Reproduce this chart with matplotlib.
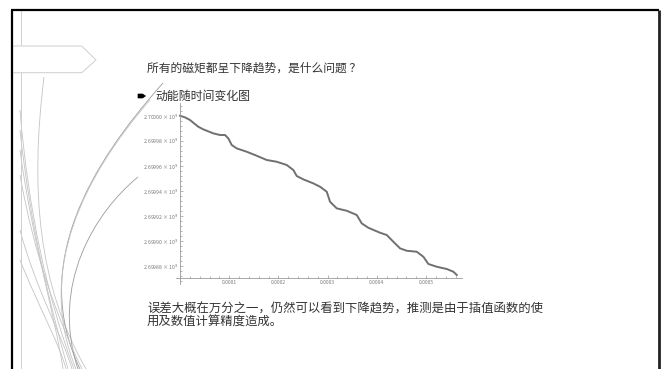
import matplotlib
matplotlib.use("Agg")
import matplotlib.pyplot as plt
from matplotlib.path import Path
from matplotlib.patches import PathPatch, Polygon
from matplotlib.ticker import FixedLocator, FuncFormatter, MultipleLocator

plt.rcParams['font.family'] = ['Noto Sans CJK SC', 'DejaVu Sans']

# ---- data: kinetic energy vs time ----
time_s = [0.0, 0.102e-4, 0.203e-4, 0.372e-4, 0.474e-4, 0.677e-4, 0.813e-4, 0.915e-4,
          0.982e-4, 1.051e-4, 1.152e-4, 1.356e-4, 1.559e-4, 1.762e-4, 1.965e-4, 2.169e-4,
          2.303e-4, 2.372e-4, 2.506e-4, 2.709e-4, 2.846e-4, 2.982e-4, 3.049e-4, 3.185e-4,
          3.388e-4, 3.591e-4, 3.693e-4, 3.827e-4, 4.065e-4, 4.201e-4, 4.335e-4, 4.472e-4,
          4.608e-4, 4.811e-4, 4.945e-4, 5.047e-4, 5.217e-4, 5.421e-4, 5.555e-4, 5.624e-4]
energy_e9 = [2.7000000, 2.6999987, 2.6999966, 2.6999912, 2.6999891, 2.6999859, 2.6999846,
             2.6999846, 2.6999819, 2.6999766, 2.6999739, 2.6999712, 2.6999680, 2.6999646,
             2.6999632, 2.6999606, 2.6999566, 2.6999518, 2.6999491, 2.6999459, 2.6999432,
             2.6999392, 2.6999312, 2.6999259, 2.6999240, 2.6999206, 2.6999139, 2.6999104,
             2.6999064, 2.6999046, 2.6998992, 2.6998939, 2.6998920, 2.6998912, 2.6998872,
             2.6998814, 2.6998792, 2.6998774, 2.6998752, 2.6998726]

y_ticks = [2.69988, 2.69990, 2.69992, 2.69994, 2.69996, 2.69998, 2.70000]
x_ticks = [0.0001, 0.0002, 0.0003, 0.0004, 0.0005]

title_text = "所有的磁矩都呈下降趋势，是什么问题 ？"
bullet_text = "动能随时间变化图"
note_lines = ["误差大概在万分之一，仍然可以看到下降趋势，推测是由于插值函数的使",
              "用及数值计算精度造成。"]

W, H = 665, 369
fig = plt.figure(figsize=(W / 100, H / 100), dpi=100)
fig.patch.set_facecolor('white')

# ---- slide background layer in pixel coordinates ----
bg = fig.add_axes([0, 0, 1, 1], zorder=0)
bg.set_xlim(0, W)
bg.set_ylim(H, 0)
bg.axis('off')

# thin vertical guide line
bg.plot([20.7, 20.7], [11, H], color='#cfcfcf', lw=0.7)

# decorative sweeping curves
curves = [
    [(44, 77), (30, 190), (38, 285), (86, 369)],
    [(163, 83), (90, 165), (30, 265), (80, 369)],
    [(150, 100), (85, 175), (35, 270), (76, 369)],
    [(138, 177), (95, 212), (50, 285), (78, 369)],
    [(20, 110), (28, 210), (48, 300), (74, 369)],
    [(20, 130), (30, 225), (50, 305), (68, 369)],
    [(20, 150), (32, 240), (55, 315), (63, 369)],
    [(20, 175), (34, 255), (58, 320), (82, 369)],
    [(20, 230), (36, 290), (62, 335), (72, 369)],
    [(20, 260), (40, 310), (60, 345), (66, 369)],
]
for i, pts in enumerate(curves):
    path = Path(pts, [Path.MOVETO, Path.CURVE4, Path.CURVE4, Path.CURVE4])
    col = '#9a9a9a' if i in (1, 3) else '#c4c4c4'
    bg.add_patch(PathPatch(path, facecolor='none', edgecolor=col, lw=0.6))

# pentagon tab at top left
bg.add_patch(Polygon([(12, 46), (81.7, 46), (96, 60), (81.7, 72.7), (12, 72.7)],
                     closed=True, facecolor='white', edgecolor='#cfcfcf', lw=0.7, zorder=3))

# slide frame
bg.plot([11.7, 11.7], [10, H], color='black', lw=1.6, zorder=4, solid_capstyle='butt')
bg.plot([11, 659], [10, 10], color='black', lw=1.6, zorder=4, solid_capstyle='butt')
bg.plot([658.5, 658.5], [10, H], color='#222222', lw=2.0, zorder=4, solid_capstyle='butt')

# bullet arrow
bg.add_patch(Polygon([(138, 94), (142.5, 94), (145.5, 96), (142.5, 98), (138, 98)],
                     closed=True, facecolor='black', edgecolor='black', lw=0.5, zorder=3))

# texts
txt_color = '#333333'
bg.text(147, 67.7, title_text, fontsize=8.5, color=txt_color, ha='left', va='center')
bg.text(155, 96, bullet_text, fontsize=8.6, color=txt_color, ha='left', va='center')
bg.text(147, 309.5, note_lines[0], fontsize=8.9, color=txt_color, ha='left', va='center')
bg.text(147, 322.5, note_lines[1], fontsize=8.9, color=txt_color, ha='left', va='center')

# ---- chart ----
px_left, px_right, px_top, px_bottom = 176, 462, 103, 284
ax = fig.add_axes([px_left / W, 1 - px_bottom / H,
                   (px_right - px_left) / W, (px_bottom - px_top) / H], zorder=2)
ax.patch.set_alpha(0)

ax.plot(time_s, energy_e9, color='#707070', lw=1.4, solid_joinstyle='round')

ax.set_xlim(-0.0000081, 0.000573)
ax.set_ylim(2.6998654, 2.7000102)

ax.spines['left'].set_position(('data', 0))
ax.spines['bottom'].set_position(('data', 2.6998706))
for s in ('top', 'right'):
    ax.spines[s].set_visible(False)
for s in ('left', 'bottom'):
    ax.spines[s].set_color('#9a9a9a')
    ax.spines[s].set_linewidth(0.6)

ax.yaxis.set_major_locator(FixedLocator(y_ticks))
ax.yaxis.set_minor_locator(MultipleLocator(0.000004))
ax.xaxis.set_major_locator(FixedLocator(x_ticks))
ax.xaxis.set_minor_locator(MultipleLocator(0.00002))

ax.yaxis.set_major_formatter(FuncFormatter(lambda v, p: f"{v:.5f} × 10$^{{9}}$"))
ax.xaxis.set_major_formatter(FuncFormatter(lambda v, p: f"{v:.4f}"))

ax.tick_params(axis='both', which='both', direction='in', color='#9a9a9a', width=0.5,
               labelcolor='#7a7a7a')
ax.tick_params(axis='both', which='major', length=2.4)
ax.tick_params(axis='both', which='minor', length=1.2)
ax.tick_params(axis='y', labelsize=3.7, pad=1.2)
ax.tick_params(axis='x', labelsize=3.6, pad=2.0)

fig.savefig('out.png', dpi=100, facecolor='white')
